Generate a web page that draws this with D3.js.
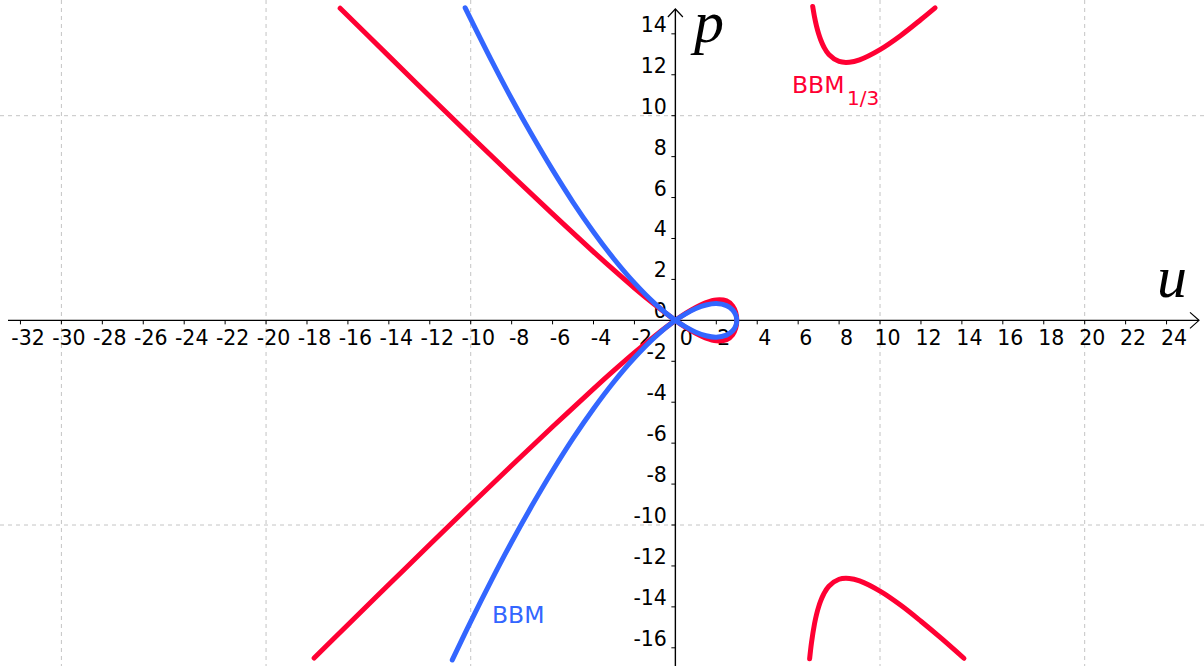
<!DOCTYPE html>
<meta charset="utf-8">
<style>
  body { margin: 0; background: #fff; }
  svg { display: block; }
  .tick text { font-family: "DejaVu Sans", sans-serif; font-size: 20.5px; fill: #000; }
</style>
<body>
<script src="https://d3js.org/d3.v7.min.js"></script>
<script>

// tick values on both axes
var xTicks = d3.range(-32, 25, 2);
var yTicks = d3.range(-16, 15, 2);
var xGrid = [-30, -20, -10, 10, 20];
var yGrid = [-10, 10];

// BBM: one closed-loop curve through the origin
var bbmU = [-10.27, -9, -8, -7, -6, -5, -4, -3, -2, -1, 0, 0.5, 1, 1.5, 2, 2.5, 2.8, 2.95, 3,
            2.95, 2.8, 2.5, 2, 1.5, 1, 0.5, 0, -1, -2, -3, -4, -5, -6, -7, -8, -9, -10, -10.9];
var bbmP = [15.27, 12.73, 10.83, 9.04, 7.35, 5.77, 4.32, 3, 1.83, 0.82, 0, -0.32, -0.58, -0.75, -0.82, -0.72, -0.51, -0.27, 0,
            0.27, 0.51, 0.72, 0.82, 0.75, 0.58, 0.32, 0, -0.82, -1.83, -3, -4.32, -5.77, -7.35, -9.04, -10.83, -12.73, -14.72, -16.59];

// BBM_1/3: loop part
var bbm13U = [-16.38, -14, -12, -10, -8, -6, -4, -3, -2, -1, 0, 0.5, 1, 1.5, 2, 2.5, 2.8, 2.95, 3,
              2.95, 2.8, 2.5, 2, 1.5, 1, 0.5, 0, -1, -2, -3, -4, -6, -8, -10, -12, -14, -16, -17.65];
var bbm13P = [15.25, 12.91, 10.95, 9.01, 7.09, 5.2, 3.35, 2.45, 1.58, 0.76, 0, -0.34, -0.63, -0.87, -1.0, -0.95, -0.7, -0.38, 0,
              0.38, 0.7, 0.95, 1.0, 0.87, 0.63, 0.34, 0, -0.76, -1.58, -2.45, -3.35, -5.2, -7.09, -9.01, -10.95, -12.91, -14.87, -16.5];

// BBM_1/3: upper right branch
var bbm13UpU = [6.71, 6.8, 6.9, 7, 7.1, 7.25, 7.5, 8, 8.5, 9, 10, 11, 12, 12.69];
var bbm13UpP = [15.34, 14.82, 14.36, 14.0, 13.71, 13.37, 12.99, 12.65, 12.61, 12.73, 13.23, 13.91, 14.7, 15.27];

// BBM_1/3: lower right branch
var bbm13LoU = [6.56, 6.65, 6.8, 6.9, 7, 7.1, 7.25, 7.5, 8, 8.5, 9, 10, 11, 12, 13, 14.1];
var bbm13LoP = [-16.54, -15.76, -14.82, -14.36, -14.0, -13.71, -13.37, -12.99, -12.65, -12.61, -12.73, -13.23, -13.91, -14.7, -15.54, -16.51];

var red = "#ff0033", blue = "#3366ff";

var width = 1204,
    height = 666;

var x = d3.scaleLinear().domain([-33.0, 25.83]).range([0, width]);
var y = d3.scaleLinear().domain([15.653, -16.889]).range([0, height]);

var svg = d3.select("body").append("svg")
    .attr("width", width)
    .attr("height", height);

// dashed grid
svg.selectAll(".vgrid").data(xGrid).enter().append("line")
    .attr("x1", function(d) { return x(d); }).attr("x2", function(d) { return x(d); })
    .attr("y1", 0).attr("y2", height)
    .attr("stroke", "#c4c4c4").attr("stroke-dasharray", "4,4");

svg.selectAll(".hgrid").data(yGrid).enter().append("line")
    .attr("y1", function(d) { return y(d); }).attr("y2", function(d) { return y(d); })
    .attr("x1", 0).attr("x2", width)
    .attr("stroke", "#c4c4c4").attr("stroke-dasharray", "4,4");

var x0 = x(0), y0 = y(0);

// axes (custom ticks: labels sit right of the x ticks, above the y ticks)
var xAxis = svg.append("g").attr("transform", "translate(0," + y0 + ")");
xAxis.append("line").attr("x1", 8).attr("x2", 1199).attr("stroke", "#000").attr("stroke-width", 1.4);
xAxis.append("path").attr("d", "M1190,-8L1199,0L1190,8").attr("fill", "none").attr("stroke", "#000").attr("stroke-width", 1.2);
var xt = xAxis.selectAll(".tick").data(xTicks).enter().append("g")
    .attr("class", "tick")
    .attr("transform", function(d) { return "translate(" + x(d) + ",0)"; });
xt.append("line").attr("y1", 0).attr("y2", 4).attr("stroke", "#000");
xt.append("text")
    .attr("x", function(d) { return d === 0 ? 11 : 7.5; })
    .attr("y", 25)
    .attr("text-anchor", "middle")
    .text(function(d) { return d; });

var yAxis = svg.append("g").attr("transform", "translate(" + x0 + ",0)");
yAxis.append("line").attr("y1", 9).attr("y2", height).attr("stroke", "#000").attr("stroke-width", 1.4);
yAxis.append("path").attr("d", "M-7.5,17L0,9L7.5,17").attr("fill", "none").attr("stroke", "#000").attr("stroke-width", 1.2);
var yt = yAxis.selectAll(".tick").data(yTicks).enter().append("g")
    .attr("class", "tick")
    .attr("transform", function(d) { return "translate(0," + y(d) + ")"; });
yt.append("line").attr("x1", -4).attr("x2", 0).attr("stroke", "#000");
yt.append("text")
    .attr("x", -8.5)
    .attr("y", -2)
    .attr("text-anchor", "end")
    .text(function(d) { return d; });

// axis names
svg.append("text").attr("x", 694).attr("y", 42)
    .attr("font-family", "Liberation Serif, serif").attr("font-style", "italic")
    .attr("font-size", 60).text("p");
svg.append("text").attr("x", 1157).attr("y", 297)
    .attr("font-family", "Liberation Serif, serif").attr("font-style", "italic")
    .attr("font-size", 60).text("u");

// curves
var line = d3.line()
    .x(function(d) { return x(d[0]); })
    .y(function(d) { return y(d[1]); })
    .curve(d3.curveCatmullRom.alpha(0.5));

function pts(us, ps) { return us.map(function(u, i) { return [u, ps[i]]; }); }

var curves = [
  {u: bbm13U, p: bbm13P, c: red},
  {u: bbm13UpU, p: bbm13UpP, c: red},
  {u: bbm13LoU, p: bbm13LoP, c: red},
  {u: bbmU, p: bbmP, c: blue}
];

svg.selectAll(".curve").data(curves).enter().append("path")
    .attr("class", "curve")
    .attr("d", function(d) { return line(pts(d.u, d.p)); })
    .attr("fill", "none")
    .attr("stroke", function(d) { return d.c; })
    .attr("stroke-width", 5)
    .attr("stroke-linecap", "round")
    .attr("stroke-linejoin", "round");

// curve labels
svg.append("text").attr("x", 492).attr("y", 623)
    .attr("font-family", "DejaVu Sans, sans-serif").attr("font-size", 23.5)
    .attr("fill", blue).text("BBM");

var lab = svg.append("text").attr("x", 792).attr("y", 93)
    .attr("font-family", "DejaVu Sans, sans-serif").attr("font-size", 23.5)
    .attr("fill", red);
lab.append("tspan").text("BBM");
lab.append("tspan").attr("x", 847).attr("y", 105).attr("font-size", 20).text("1/3");

</script>
